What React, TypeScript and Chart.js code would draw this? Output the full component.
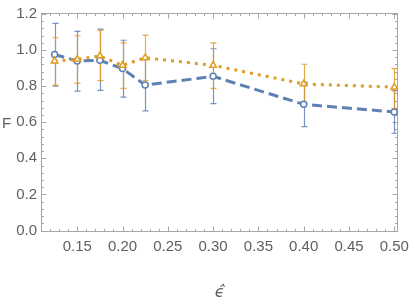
import React, { useEffect, useRef } from 'react';
import { Chart, registerables } from 'chart.js';
Chart.register(...registerables);

const xValues = [0.125, 0.15, 0.175, 0.2, 0.225, 0.3, 0.4, 0.5];
const blueY = [0.975, 0.939, 0.943, 0.897, 0.806, 0.854, 0.699, 0.657];
const blueHi = [1.148, 1.103, 1.116, 1.054, 0.949, 1.007, 0.822, 0.775];
const blueLo = [0.8, 0.772, 0.776, 0.739, 0.663, 0.703, 0.576, 0.539];
const orangeY = [0.939, 0.948, 0.967, 0.915, 0.957, 0.915, 0.812, 0.794];
const orangeHi = [1.068, 1.079, 1.109, 1.039, 1.083, 1.039, 0.921, 0.897];
const orangeLo = [0.806, 0.817, 0.83, 0.788, 0.831, 0.788, 0.703, 0.676];

const xTickLabels = [0.15, 0.2, 0.25, 0.3, 0.35, 0.4, 0.45, 0.5];
const yTickLabels = [0, 0.2, 0.4, 0.6, 0.8, 1.0, 1.2];
const xMinorStep = 0.01;
const yMinorStep = 0.04;

const BLUE = '#5E81B5';
const ORANGE = '#E19C24';
const FRAME = '#a6a6a6';
const TEXT = '#606060';

export default function App() {
  const ref = useRef<HTMLCanvasElement>(null);
  useEffect(() => {
    document.body.style.margin = '0';
    const canvas = ref.current!;

    const errorSets = [
      { hi: blueHi, lo: blueLo, color: 'rgba(94,129,181,0.85)' },
      { hi: orangeHi, lo: orangeLo, color: 'rgba(225,156,36,0.85)' },
    ];

    const decor = {
      id: 'decor',
      beforeDatasetsDraw(chart: any) {
        const { ctx, chartArea: a, scales } = chart;
        const xs = scales.x, ys = scales.y;
        ctx.save();
        // frame
        ctx.strokeStyle = FRAME;
        ctx.lineWidth = 1;
        const L = Math.round(a.left) + 0.5, R = Math.round(a.right) - 0.5;
        const T = Math.round(a.top) + 0.5, B = Math.round(a.bottom) - 0.5;
        ctx.strokeRect(L, T, R - L, B - T);
        ctx.beginPath();
        // x ticks
        const xMin = xs.min, xMax = xs.max;
        for (let i = Math.ceil(xMin / xMinorStep - 1e-6); i * xMinorStep <= xMax + 1e-9; i++) {
          const v = i * xMinorStep;
          const major = xTickLabels.some((t) => Math.abs(t - v) < 1e-6);
          const len = major ? 5 : 2.5;
          const px = Math.round(xs.getPixelForValue(v)) + 0.5;
          ctx.moveTo(px, B); ctx.lineTo(px, B - len);
          ctx.moveTo(px, T); ctx.lineTo(px, T + len);
        }
        for (let i = Math.ceil(ys.min / yMinorStep - 1e-6); i * yMinorStep <= ys.max + 1e-9; i++) {
          const v = i * yMinorStep;
          const major = yTickLabels.some((t) => Math.abs(t - v) < 1e-6);
          const len = major ? 5 : 2.5;
          const py = Math.round(ys.getPixelForValue(v)) + 0.5;
          ctx.moveTo(L, py); ctx.lineTo(L + len, py);
          ctx.moveTo(R, py); ctx.lineTo(R - len, py);
        }
        ctx.stroke();
        // error bars
        ctx.lineWidth = 1.2;
        for (const s of errorSets) {
          ctx.strokeStyle = s.color;
          ctx.beginPath();
          for (let i = 0; i < xValues.length; i++) {
            const px = Math.round(xs.getPixelForValue(xValues[i])) + 0.5;
            const ph = ys.getPixelForValue(s.hi[i]);
            const pl = ys.getPixelForValue(s.lo[i]);
            ctx.moveTo(px, ph); ctx.lineTo(px, pl);
            ctx.moveTo(px - 3, ph); ctx.lineTo(px + 3, ph);
            ctx.moveTo(px - 3, pl); ctx.lineTo(px + 3, pl);
          }
          ctx.stroke();
        }
        ctx.restore();
      },
      afterDraw(chart: any) {
        const { ctx, chartArea: a } = chart;
        ctx.save();
        ctx.fillStyle = TEXT;
        ctx.font = '15px "Liberation Sans", Arial, sans-serif';
        ctx.textAlign = 'left';
        ctx.textBaseline = 'middle';
        ctx.fillText('F', 2, (a.top + a.bottom) / 2 + 1);
        ctx.font = 'italic 16px "DejaVu Sans", sans-serif';
        ctx.textAlign = 'center';
        ctx.fillText('\u03F5\u0302', (a.left + a.right) / 2, 293);
        ctx.restore();
      },
    };

    const chart = new Chart(canvas, {
      type: 'line',
      data: {
        datasets: [
          {
            label: 'blue',
            data: xValues.map((x, i) => ({ x, y: blueY[i] })),
            borderColor: BLUE,
            borderWidth: 3,
            borderDash: [10, 5],
            pointStyle: 'circle',
            pointRadius: 3,
            pointBorderWidth: 1.5,
            pointBackgroundColor: '#ffffff',
            pointBorderColor: BLUE,
            fill: false,
            tension: 0,
            order: 2,
          },
          {
            label: 'orange',
            data: xValues.map((x, i) => ({ x, y: orangeY[i] })),
            borderColor: ORANGE,
            borderWidth: 3,
            borderDash: [3, 5],
            pointStyle: 'triangle',
            pointRadius: 3.8,
            pointBorderWidth: 1.5,
            pointBackgroundColor: '#ffffff',
            pointBorderColor: ORANGE,
            fill: false,
            tension: 0,
            order: 1,
          },
        ],
      },
      options: {
        responsive: false,
        animation: false,
        devicePixelRatio: 1,
        layout: { padding: { top: 9, right: 10.5, left: 0, bottom: 0 } },
        plugins: { legend: { display: false }, tooltip: { enabled: false } },
        scales: {
          x: {
            type: 'linear',
            min: 0.11,
            max: 0.5045,
            afterBuildTicks: (s: any) => { s.ticks = xTickLabels.map((v) => ({ value: v })); },
            afterFit: (s: any) => { s.height = 73; },
            grid: { display: false, drawTicks: false },
            border: { display: false },
            ticks: {
              padding: 6,
              color: TEXT,
              font: { family: '"Liberation Sans", Arial, sans-serif', size: 15 },
              callback: (v: any) => Number(v).toFixed(2),
              maxRotation: 0,
              autoSkip: false,
            },
          },
          y: {
            type: 'linear',
            min: -0.008,
            max: 1.205,
            afterBuildTicks: (s: any) => { s.ticks = yTickLabels.map((v) => ({ value: v })); },
            afterFit: (s: any) => { s.width = 41; },
            grid: { display: false, drawTicks: false },
            border: { display: false },
            ticks: {
              padding: 4,
              color: TEXT,
              font: { family: '"Liberation Sans", Arial, sans-serif', size: 15 },
              callback: (v: any) => Number(v).toFixed(1),
              autoSkip: false,
            },
          },
        },
      },
      plugins: [decor],
    } as any);
    return () => chart.destroy();
  }, []);
  return (
    <div style={{ position: 'fixed', left: 0, top: 0, width: 415, height: 305 }}>
      <canvas ref={ref} width={415} height={305} style={{ display: 'block' }} />
    </div>
  );
}
